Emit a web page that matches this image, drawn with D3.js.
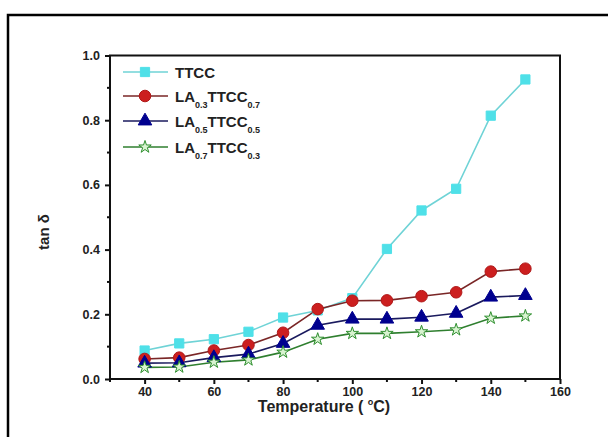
<!DOCTYPE html>
<html>
<head>
<meta charset="utf-8">
<script src="https://cdn.jsdelivr.net/npm/d3@7"></script>
<style>
  body { margin: 0; background: #fff; }
  svg { font-family: Arial, 'Liberation Sans', sans-serif; }
</style>
</head>
<body>
<div id="chart"></div>
<script>
const temps = [40, 50, 60, 70, 80, 90, 100, 110, 120, 130, 140, 150]
const ttcc = [0.088, 0.11, 0.123, 0.146, 0.19, 0.212, 0.25, 0.402, 0.521, 0.588, 0.814, 0.926]
const la03 = [0.062, 0.066, 0.088, 0.105, 0.143, 0.216, 0.242, 0.243, 0.256, 0.268, 0.332, 0.341]
const la05 = [0.049, 0.05, 0.066, 0.077, 0.11, 0.166, 0.185, 0.185, 0.191, 0.203, 0.253, 0.258]
const la07 = [0.036, 0.037, 0.052, 0.059, 0.083, 0.123, 0.141, 0.141, 0.146, 0.152, 0.188, 0.195]
const xTicks = [40, 60, 80, 100, 120, 140, 160]
const yTicks = [0.0, 0.2, 0.4, 0.6, 0.8, 1.0]

const series = [
  { base: 'TTCC', subA: null, subB: null, values: ttcc, line: '#6fd3d6', fill: '#4fe0e8', stroke: '#4fe0e8', shape: d3.symbolSquare, size: 85 },
  { base: 'LA', subA: '0.3', subB: '0.7', values: la03, line: '#7a2626', fill: '#cc1f1f', stroke: '#b01818', shape: d3.symbolCircle, size: 105 },
  { base: 'LA', subA: '0.5', subB: '0.5', values: la05, line: '#1a1a5e', fill: '#00008f', stroke: '#00008f', shape: d3.symbolTriangle, size: 80 },
  { base: 'LA', subA: '0.7', subB: '0.3', values: la07, line: '#2f7f2f', fill: '#d8f3d0', stroke: '#2f8f2f', shape: d3.symbolStar, size: 48 },
]

const width = 608
const height = 437
const margin = { top: 55.5, right: 48, bottom: 58, left: 110 }

const svg = d3.select('#chart').append('svg')
  .attr('width', width)
  .attr('height', height)

// outer frame (runs off the right and bottom)
svg.append('path')
  .attr('d', `M8,${height + 5} L8,15 L${width + 5},15`)
  .attr('fill', 'none')
  .attr('stroke', '#000')
  .attr('stroke-width', 2.5)

const x = d3.scaleLinear().domain([30, 160]).range([margin.left, width - margin.right])
const y = d3.scaleLinear().domain([0, 1]).range([height - margin.bottom, margin.top])

// plot box
svg.append('rect')
  .attr('x', x(30))
  .attr('y', y(1))
  .attr('width', x(160) - x(30))
  .attr('height', y(0) - y(1))
  .attr('fill', 'none')
  .attr('stroke', '#111')
  .attr('stroke-width', 2)

// x axis
const xAxis = svg.append('g')
  .attr('transform', `translate(0,${y(0)})`)
  .call(d3.axisBottom(x).tickValues(xTicks).tickSize(5).tickPadding(3).tickFormat(d3.format('d')))
xAxis.append('g').selectAll('line')
  .data(d3.range(30, 160, 20))
  .join('line')
  .attr('x1', d => x(d)).attr('x2', d => x(d))
  .attr('y1', 0).attr('y2', 3)
  .attr('stroke', '#111').attr('stroke-width', 2)

// y axis
const yAxis = svg.append('g')
  .attr('transform', `translate(${x(30)},0)`)
  .call(d3.axisLeft(y).tickValues(yTicks).tickSize(5).tickPadding(5).tickFormat(d3.format('.1f')))
yAxis.append('g').selectAll('line')
  .data(d3.range(0.1, 1.0, 0.2))
  .join('line')
  .attr('x1', 0).attr('x2', -3)
  .attr('y1', d => y(d)).attr('y2', d => y(d))
  .attr('stroke', '#111').attr('stroke-width', 2)

svg.selectAll('.domain').remove()
svg.selectAll('.tick line').attr('stroke', '#111').attr('stroke-width', 2)
svg.selectAll('.tick text')
  .attr('font-size', 12.5)
  .attr('font-weight', 'bold')
  .attr('fill', '#222')

// axis titles
const xTitle = svg.append('text')
  .attr('x', 324)
  .attr('y', height - 25)
  .attr('text-anchor', 'middle')
  .attr('font-size', 16)
  .attr('font-weight', 'bold')
  .attr('fill', '#222')
xTitle.append('tspan').text('Temperature ( ')
xTitle.append('tspan').attr('font-size', 9).attr('dy', -7).text('o')
xTitle.append('tspan').attr('dy', 7).text('C)')

svg.append('text')
  .attr('transform', `translate(49,232) rotate(-90)`)
  .attr('text-anchor', 'middle')
  .attr('font-size', 15)
  .attr('font-weight', 'bold')
  .attr('fill', '#222')
  .text('tan δ')

// lines and markers
const line = d3.line().x((d, i) => x(temps[i])).y(d => y(d))
series.forEach(s => {
  svg.append('path')
    .attr('d', line(s.values))
    .attr('fill', 'none')
    .attr('stroke', s.line)
    .attr('stroke-width', 1.6)
})
series.forEach(s => {
  svg.append('g').selectAll('path')
    .data(s.values)
    .join('path')
    .attr('transform', (d, i) => `translate(${x(temps[i])},${y(d)})`)
    .attr('d', d3.symbol().type(s.shape).size(s.size))
    .attr('fill', s.fill)
    .attr('stroke', s.stroke)
    .attr('stroke-width', 1)
})

// legend
const legendY = [72, 96, 121, 147]
series.forEach((s, i) => {
  const g = svg.append('g').attr('transform', `translate(123,${legendY[i]})`)
  g.append('line').attr('x1', 0).attr('x2', 45).attr('y1', 0).attr('y2', 0)
    .attr('stroke', s.line).attr('stroke-width', 1.6)
  g.append('path').attr('transform', 'translate(22,0)')
    .attr('d', d3.symbol().type(s.shape).size(s.size))
    .attr('fill', s.fill).attr('stroke', s.stroke)
  const t = g.append('text').attr('x', 52).attr('y', 5.5)
    .attr('font-size', 15).attr('font-weight', 'bold').attr('fill', '#222')
  t.append('tspan').text(s.base)
  if (s.subA) {
    t.append('tspan').attr('font-size', 9).attr('dy', 6).text(s.subA)
    t.append('tspan').attr('dy', -6).text('TTCC')
    t.append('tspan').attr('font-size', 9).attr('dy', 6).text(s.subB)
  }
})
</script>
</body>
</html>
